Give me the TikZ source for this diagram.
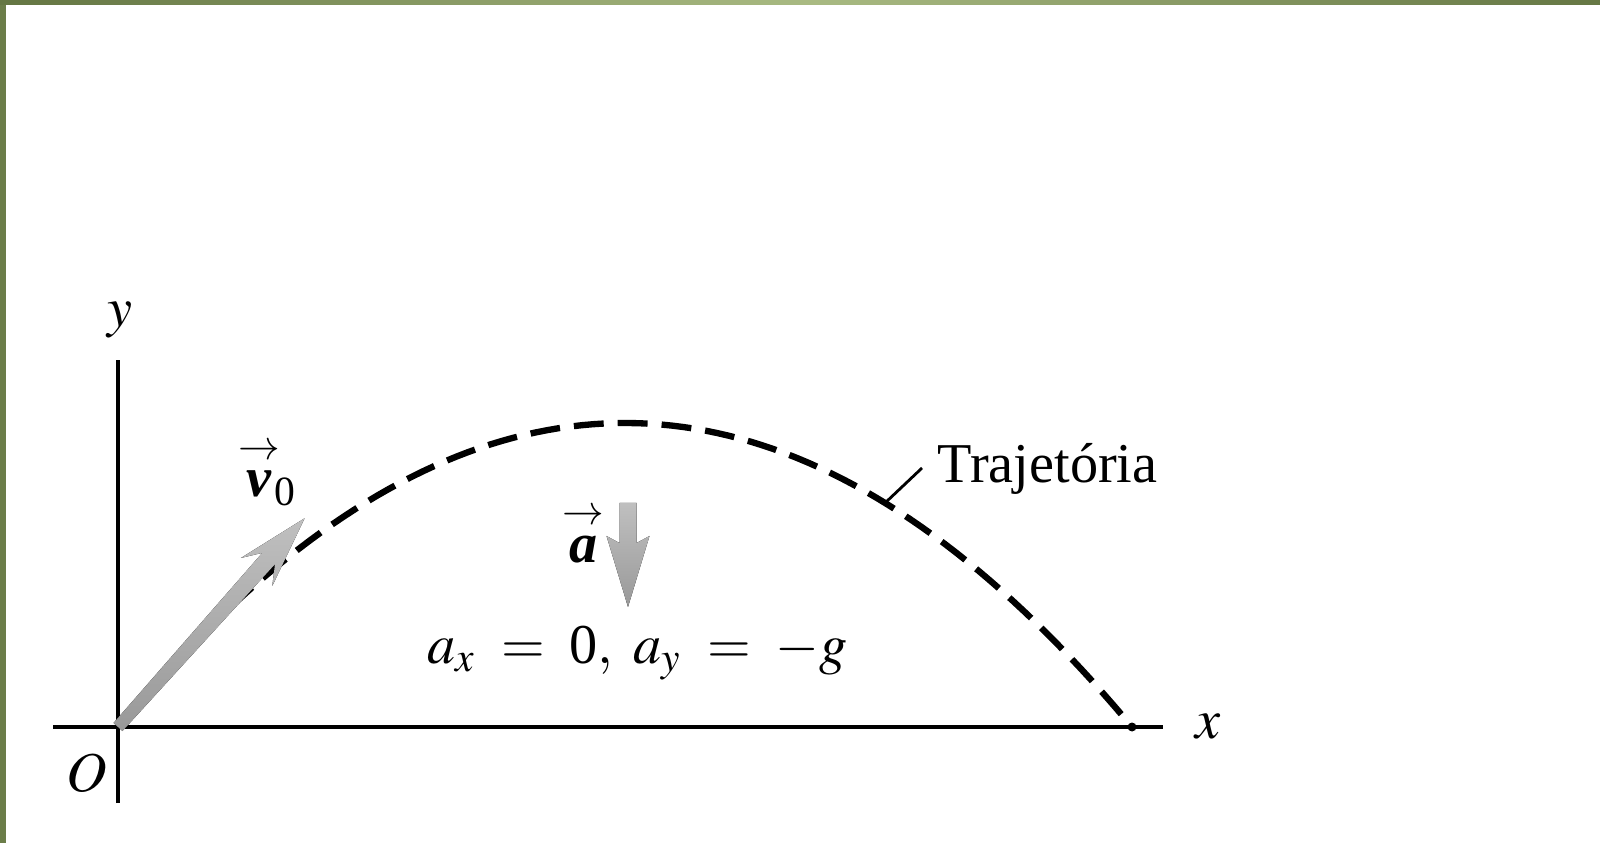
\documentclass[tikz,border=0pt]{standalone}
\usepackage{amsmath}
\usepackage{mathptmx}
\usepackage{fontspec}
\setmainfont{Liberation Serif}
\definecolor{framedark}{HTML}{647643}
\definecolor{framelight}{HTML}{A9BA82}
\begin{document}
\begin{tikzpicture}[font=\fontsize{16}{19}\selectfont]
  \tikzset{axis line/.style={line width=1pt},
           path dash/.style={line width=1.8pt, dash pattern=on 8.5pt off 4pt},
           vec arrow/.style={draw=none, top color=gray!50, bottom color=gray!80}}
  \useasboundingbox (0,0) rectangle (16,8.43);
  % frame
  \fill[framedark!90!framelight] (0,0) rectangle (0.06,8.43);
  \foreach \i in {0,...,79} {
    \pgfmathsetmacro\p{abs(\i-40)*2.5}
    \fill[framedark!\p!framelight] (\i*0.2,8.38) rectangle (\i*0.2+0.21,8.43);
  }
  % axes
  \coordinate (O) at (1.18,1.16);
  \draw[axis line] (1.18,0.40) -- (1.18,4.83);
  \draw[axis line] (0.53,1.16) -- (11.63,1.16);
  \node (ylab) at (1.20,5.23) {$y$};
  \node (xlab) at (12.08,1.16) {$x$};
  \node (olab) at (0.87,0.70) {$O$};
  % trajectory
  \draw[path dash] plot[domain=2.30:11.26, samples=80]
    (\x, {1.16+12.16*((\x-1.18)/10.14)*(1-(\x-1.18)/10.14)});
  \fill (11.32,1.16) circle (0.045);
  \coordinate (lead) at (8.85,3.40);
  \node[anchor=base west, inner sep=0pt] (traj) at (9.37,3.60) {Trajetória};
  \draw[line width=0.8pt] (lead) -- ([shift={(-0.15,0.15)}]traj.base west);
  % initial velocity
  \begin{scope}[shift={(O)}, rotate=48.2]
    \fill[vec arrow] (0,-0.06) -- (2.26,-0.085) -- (2.08,-0.21) -- (2.80,0)
      -- (2.08,0.21) -- (2.26,0.085) -- (0,0.06) -- cycle;
  \end{scope}
  \node[anchor=base west, inner sep=0pt] (vlab) at (2.38,3.46)
    {$\overset{\rightarrow}{\textbf{\textit{v}}}\!_{\text{0}}$};
  % acceleration
  \begin{scope}[shift={(6.28,3.40)}, rotate=-90]
    \fill[vec arrow] (0,-0.085) -- (0.40,-0.085) -- (0.33,-0.215) -- (1.04,0)
      -- (0.33,0.215) -- (0.40,0.085) -- (0,0.085) -- cycle;
  \end{scope}
  \node[anchor=base west, inner sep=0pt] (alab) at (5.62,2.81)
    {$\overset{\rightarrow}{\textbf{\textit{a}}}$};
  \node[anchor=base west, inner sep=0pt] (eqn) at (4.27,1.80)
    {$a_x \;=\; \text{0},\ a_y \;=\; -g$};
\end{tikzpicture}
\end{document}
